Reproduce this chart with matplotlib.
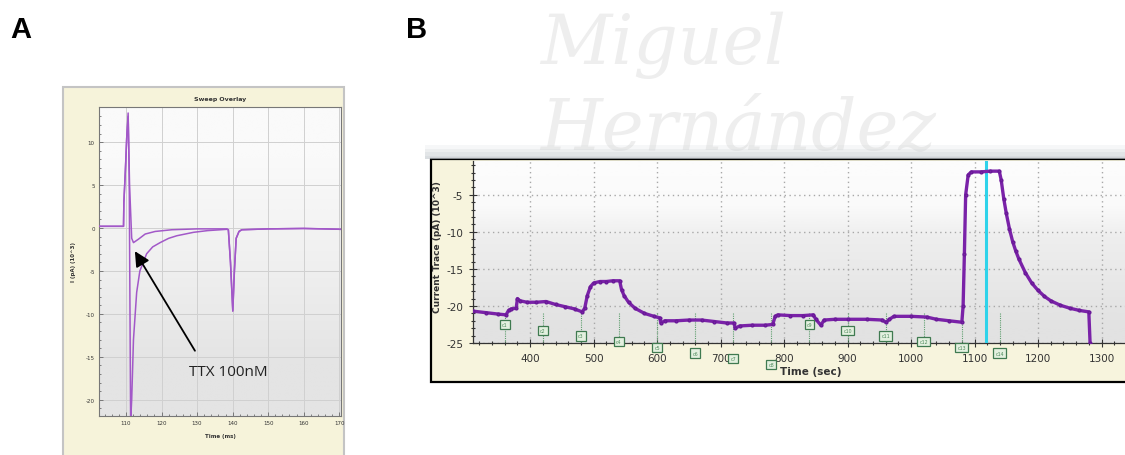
import numpy as np
import matplotlib
matplotlib.use("Agg")
import matplotlib.pyplot as plt
from matplotlib.patches import Rectangle

plt.rcParams["axes.unicode_minus"] = False

W, H = 1125, 456

# ---- panel A: sweep overlay (ms, pA x10^3) ----
ctrl_t = [102.4, 109.3, 109.4, 109.8, 110.2, 110.6, 110.9, 111.3, 111.6, 112.1, 113.0,
          113.9, 115.8, 117.5, 119.6, 122.0, 124.3, 129.0, 133.0, 138.4, 138.8, 139.4,
          140.05, 140.5, 141.0, 141.8, 142.6, 150.0, 160.0, 166.0, 170.5]
ctrl_i = [0.2, 0.2, 3.0, 6.5, 10.5, 13.4, 6.0, -22.5, -20.0, -13.0, -7.5,
          -5.0, -3.0, -2.2, -1.7, -1.2, -0.9, -0.5, -0.3, -0.15, -0.2, -4.0,
          -9.7, -5.0, -1.2, -0.4, -0.2, -0.1, -0.05, -0.1, -0.15]
ttx_t = [102.4, 109.3, 109.4, 109.8, 110.2, 110.6, 111.0, 111.6, 112.1, 113.5, 115.4,
         118.2, 122.9, 130.0, 138.4, 138.8, 139.4, 140.05, 140.5, 141.0, 141.8, 142.6,
         150.0, 160.0, 170.5]
ttx_i = [0.2, 0.2, 3.0, 6.5, 10.5, 13.0, 5.0, -1.2, -1.7, -1.3, -0.7,
         -0.4, -0.2, -0.1, -0.1, -0.2, -4.0, -9.6, -5.0, -1.2, -0.4, -0.2,
         -0.1, -0.05, -0.15]

# ---- panel B: current trace over time (sec, pA x10^3) ----
trace_t = [310, 330, 350, 362, 366, 370, 378, 380, 384, 395, 410, 425, 440, 455, 470,
           482, 486, 490, 495, 500, 510, 520, 530, 541, 544, 548, 555, 565, 580, 595,
           604, 606, 612, 630, 650, 670, 690, 710, 721, 723, 730, 750, 770, 782, 786,
           790, 810, 830, 846, 850, 858, 863, 880, 900, 930, 955, 960, 966, 973, 1000,
           1025, 1040, 1060, 1080, 1082, 1084, 1086, 1090, 1095, 1110, 1125, 1139, 1142,
           1146, 1150, 1155, 1160, 1165, 1170, 1180, 1190, 1200, 1210, 1220, 1235, 1250,
           1265, 1280, 1282]
trace_v = [-20.7, -20.9, -21.1, -21.2, -20.6, -20.4, -20.3, -19.0, -19.3, -19.5, -19.5,
           -19.4, -19.8, -20.1, -20.4, -20.8, -20.3, -18.6, -17.4, -16.9, -16.7, -16.7,
           -16.6, -16.6, -17.8, -18.6, -19.5, -20.3, -21.0, -21.4, -21.6, -22.3, -22.0,
           -22.0, -21.9, -21.9, -22.1, -22.3, -22.3, -23.0, -22.7, -22.6, -22.6, -22.5,
           -21.4, -21.2, -21.3, -21.3, -21.2, -21.8, -22.6, -21.9, -21.8, -21.8, -21.8,
           -21.9, -22.2, -21.8, -21.4, -21.4, -21.5, -21.8, -22.0, -22.2, -20.0, -13.0,
           -5.0, -2.3, -1.9, -1.9, -1.8, -1.8, -3.0, -5.5, -7.5, -9.6, -11.3, -12.6,
           -13.7, -15.5, -16.9, -17.9, -18.7, -19.3, -19.9, -20.3, -20.6, -20.8, -25.0]
tag_times = [360, 420, 480, 540, 600, 660, 720, 780, 840, 900, 960, 1020, 1080, 1140]
tag_names = ["c%d" % (k + 1) for k in range(len(tag_times))]
cursor_t = 1118


def box(x0, y0, x1, y1):
    # pixel box -> figure fraction [left, bottom, width, height]
    return [x0 / W, 1 - y1 / H, (x1 - x0) / W, (y1 - y0) / H]


def rect(fig, x0, y0, x1, y1, z=-5, **kw):
    fig.patches.append(Rectangle((x0 / W, 1 - y1 / H), (x1 - x0) / W, (y1 - y0) / H,
                                 transform=fig.transFigure, zorder=z, **kw))


def gradient(ax, stops):
    g = np.array(stops)[:, None, :] / 255.0
    ax.imshow(g, extent=(*ax.get_xlim(), *ax.get_ylim()), aspect="auto",
              interpolation="bilinear", zorder=0)


fig = plt.figure(figsize=(W / 100, H / 100), dpi=100)
fig.patch.set_facecolor("white")

# faint watermark
fig.text(540 / W, 1 - 64 / H, "Miguel", fontsize=50, family="DejaVu Serif",
         style="italic", color="#eeeeee", zorder=-10)
fig.text(540 / W, 1 - 150 / H, "Hernández", fontsize=51, family="DejaVu Serif",
         style="italic", color="#eeeeee", zorder=-10)

fig.text(10 / W, 1 - 30 / H, "A", fontsize=21, weight="bold", va="center",
         family="Liberation Sans")
fig.text(406 / W, 1 - 30 / H, "B", fontsize=21, weight="bold", va="center",
         family="Liberation Sans")

# ---------------- panel A ----------------
rect(fig, 63, 88, 344, 458, facecolor="#f6f3da", edgecolor="#c4c4c4", lw=1.5)
axA = fig.add_axes(box(99, 108, 341, 417))
axA.set_xlim(102.4, 170.5)
axA.set_ylim(-21.9, 14.1)
gradient(axA, [(250, 250, 250), (240, 240, 240), (228, 228, 228)])
axA.plot(ctrl_t, ctrl_i, color="#a258c8", lw=1.1, zorder=3)
axA.plot(ttx_t, ttx_i, color="#a258c8", lw=1.1, zorder=3)
axA.set_xticks(range(110, 171, 10))
axA.set_yticks([-20, -15, -10, -5, 0, 5, 10])
axA.set_xticks(np.arange(104, 171, 2), minor=True)
axA.set_yticks(np.arange(-21, 14, 1), minor=True)
axA.grid(True, color="#d0d0d0", lw=0.7, zorder=1)
axA.set_axisbelow(True)
axA.tick_params(which="both", direction="in", labelsize=4, colors="#555555",
                labelcolor="#333333", width=0.5)
axA.tick_params(which="major", length=3, pad=3)
axA.tick_params(which="minor", length=1.5)
for s in axA.spines.values():
    s.set_color("#777777")
    s.set_linewidth(0.8)
fig.text(220 / W, 1 - 100 / H, "Sweep Overlay", fontsize=4.5, weight="bold",
         ha="center", va="center", color="#333333")
fig.text(220 / W, 1 - 437 / H, "Time (ms)", fontsize=4, weight="bold",
         ha="center", va="center", color="#333333")
fig.text(73 / W, 1 - 262 / H, "I (pA) (10^3)", fontsize=4, weight="bold",
         rotation=90, ha="center", va="center", color="#333333")
axA.annotate("", xy=(112.5, -2.7), xytext=(129.4, -14.3),
             arrowprops=dict(arrowstyle="-|>,head_length=0.9,head_width=0.45",
                             color="black", lw=1.3, shrinkA=0, shrinkB=0), zorder=5)
axA.text(127.8, -16.7, "TTX 100nM", fontsize=11, family="Open Sans",
         va="center", ha="left", color="#222222", zorder=5)

# ---------------- panel B ----------------
for k, a in enumerate([0.25, 0.35, 0.45, 0.55]):
    rect(fig, 425, 146 + 3.5 * k, 1125, 160, z=-4, facecolor="#c9cdd2",
         edgecolor="none", alpha=a * 0.6)
rect(fig, 431, 160, 1130, 383, facecolor="#f7f4dd", edgecolor="black", lw=1.6)
axB = fig.add_axes(box(473, 162, 1125, 344))
axB.set_xlim(310, 1337)
axB.set_ylim(-25, -0.43)
gradient(axB, [(252, 252, 252), (250, 250, 250), (238, 238, 238), (234, 234, 234),
               (230, 230, 230), (226, 226, 226)])
axB.set_xticks(range(400, 1301, 100))
axB.set_yticks([-25, -20, -15, -10, -5])
axB.set_xticks(range(320, 1337, 20), minor=True)
axB.set_yticks(np.arange(-25, 0, 1), minor=True)
axB.grid(True, which="major", color="#a8a8a8", ls=(0, (1, 2.5)), lw=1.0)
axB.set_axisbelow(True)
axB.vlines(tag_times, -25, -21, color="#5f9f6f", ls=(0, (1, 1)), lw=0.8, zorder=2)
axB.axvline(cursor_t, color="#2fd3ea", lw=2.2, zorder=3)
axB.plot(trace_t, trace_v, color="#7a22a8", lw=2.4, marker="o", ms=2.0,
         mec="#6a1a98", zorder=4)
for k, (t, name) in enumerate(zip(tag_times, tag_names)):
    lvl = k % 8
    axB.text(t, -22.5 - 0.77 * lvl, name, fontsize=3.4, color="#4d8a5c",
             ha="center", va="center", zorder=6, clip_on=False,
             bbox=dict(boxstyle="square,pad=0.45", fc="#e3f0df", ec="#3f7a50", lw=0.9))
axB.tick_params(which="both", direction="inout", labelsize=7.5, colors="#333333",
                width=0.8)
axB.tick_params(which="major", length=6, pad=4)
axB.tick_params(which="minor", length=3)
for name in ["top", "right"]:
    axB.spines[name].set_visible(False)
for name in ["left", "bottom"]:
    axB.spines[name].set_color("#333333")
    axB.spines[name].set_linewidth(0.9)
fig.text(780 / W, 1 - 372 / H, "Time (sec)", fontsize=7.5, weight="bold",
         ha="left", va="center", color="#333333")
fig.text(437 / W, 1 - 247 / H, "Current Trace (pA) (10^3)", fontsize=6.5, weight="bold",
         rotation=90, ha="center", va="center", color="#333333")

fig.savefig("out.png", dpi=100)
